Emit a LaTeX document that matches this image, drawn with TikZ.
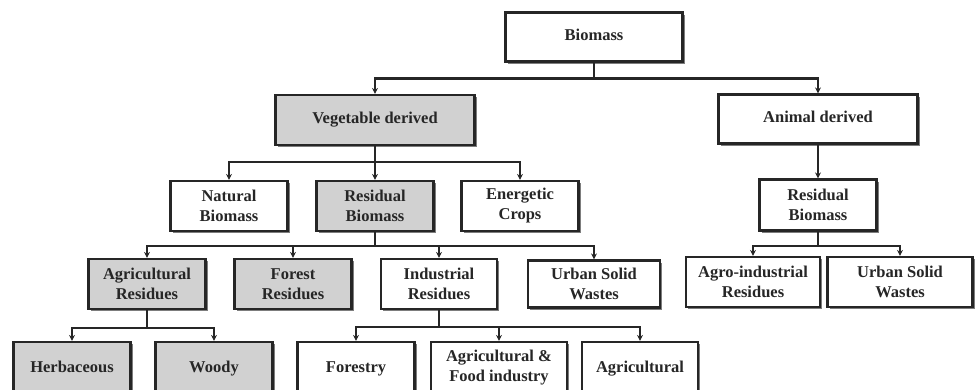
\documentclass[tikz,border=0pt]{standalone}
\usepackage{fontspec}
\setmainfont{Liberation Serif}
\usetikzlibrary{arrows.meta, shadows}

\begin{document}
\begin{tikzpicture}[x=1pt,y=-1pt,
  box/.style={draw=black!85, line width=2.2pt, fill=white, align=center,
    font=\fontsize{16.5}{20}\selectfont\bfseries, text=black!85,
    minimum width=117pt, minimum height=50pt, inner sep=0pt,
    drop shadow={shadow xshift=2.2pt, shadow yshift=-2.2pt, fill=black!60, opacity=0.85}},
  graybox/.style={box, fill=black!18},
  oneline/.style={text height=12pt, text depth=4pt},
  link/.style={draw=black!85, line width=2.2pt, -{Stealth[length=6pt,width=6pt]}},
  bus/.style={draw=black!85, line width=2.2pt}]
\clip (0,0) rectangle (977,390);
\useasboundingbox (0,0) rectangle (977,390);

% Level 0
\node [box, oneline, minimum width=177pt, minimum height=49pt] (biomass) at (594,37) {Biomass};

% Level 1
\node [graybox, oneline, minimum width=199pt, minimum height=50pt] (veg) at (375,120) {Vegetable derived};
\node [box, oneline, minimum width=199pt, minimum height=49pt] (animal) at (818,119) {Animal derived};

% Level 2
\node [box] (natural) at (229,206) {Natural\\Biomass};
\node [graybox] (residual) at (375,206) {Residual\\Biomass};
\node [box] (energetic) at (520,206) {Energetic\\Crops};
\node [box, minimum width=117pt, minimum height=51pt] (aresidual) at (818,205) {Residual\\Biomass};

% Level 3
\node [graybox] (agri) at (147,284) {Agricultural\\Residues};
\node [graybox] (forest) at (293,284) {Forest\\Residues};
\node [box, minimum width=116pt] (industrial) at (439,284) {Industrial\\Residues};
\node [box, minimum width=132pt, minimum height=47pt] (urban) at (594,284) {Urban Solid\\Wastes};
\node [box, minimum width=134pt] (agro) at (753,282) {Agro-industrial\\Residues};
\node [box, minimum width=145pt] (aurban) at (900,282) {Urban Solid\\Wastes};

% Level 4
\node [graybox, oneline, minimum height=52pt] (herb) at (72,368) {Herbaceous};
\node [graybox, oneline, minimum height=52pt] (woody) at (214,368) {Woody};
\node [box, oneline, minimum height=52pt] (forestry) at (356,368) {Forestry};
\node [box, minimum width=136pt, minimum height=52pt] (agrifood) at (499,368) {Agricultural \&\\Food industry};
\node [box, oneline, minimum width=116pt, minimum height=52pt] (agricultural) at (640,368) {Agricultural};

% Connectors
\draw [bus] (biomass.south) -- ++(0,16) coordinate (b0);
\draw [link] (b0) -| (veg.north);
\draw [link] (b0) -| (animal.north);

\draw [bus] (veg.south) -- ++(0,16) coordinate (b1);
\draw [link] (b1) -| (natural.north);
\draw [link] (b1) -- (residual.north);
\draw [link] (b1) -| (energetic.north);

\draw [link] (animal.south) -- (aresidual.north);

\draw [bus] (residual.south) -- ++(0,14) coordinate (b2);
\draw [link] (b2) -| (agri.north);
\draw [link] (b2) -| (forest.north);
\draw [link] (b2) -| (industrial.north);
\draw [link] (b2) -| (urban.north);

\draw [bus] (aresidual.south) -- ++(0,14) coordinate (b3);
\draw [link] (b3) -| (agro.north);
\draw [link] (b3) -| (aurban.north);

\draw [bus] (agri.south) -- ++(0,18) coordinate (b4);
\draw [link] (b4) -| (herb.north);
\draw [link] (b4) -| (woody.north);

\draw [bus] (industrial.south) -- ++(0,17) coordinate (b5);
\draw [link] (b5) -| (forestry.north);
\draw [link] (b5) -| (agrifood.north);
\draw [link] (b5) -| (agricultural.north);

\end{tikzpicture}
\end{document}
